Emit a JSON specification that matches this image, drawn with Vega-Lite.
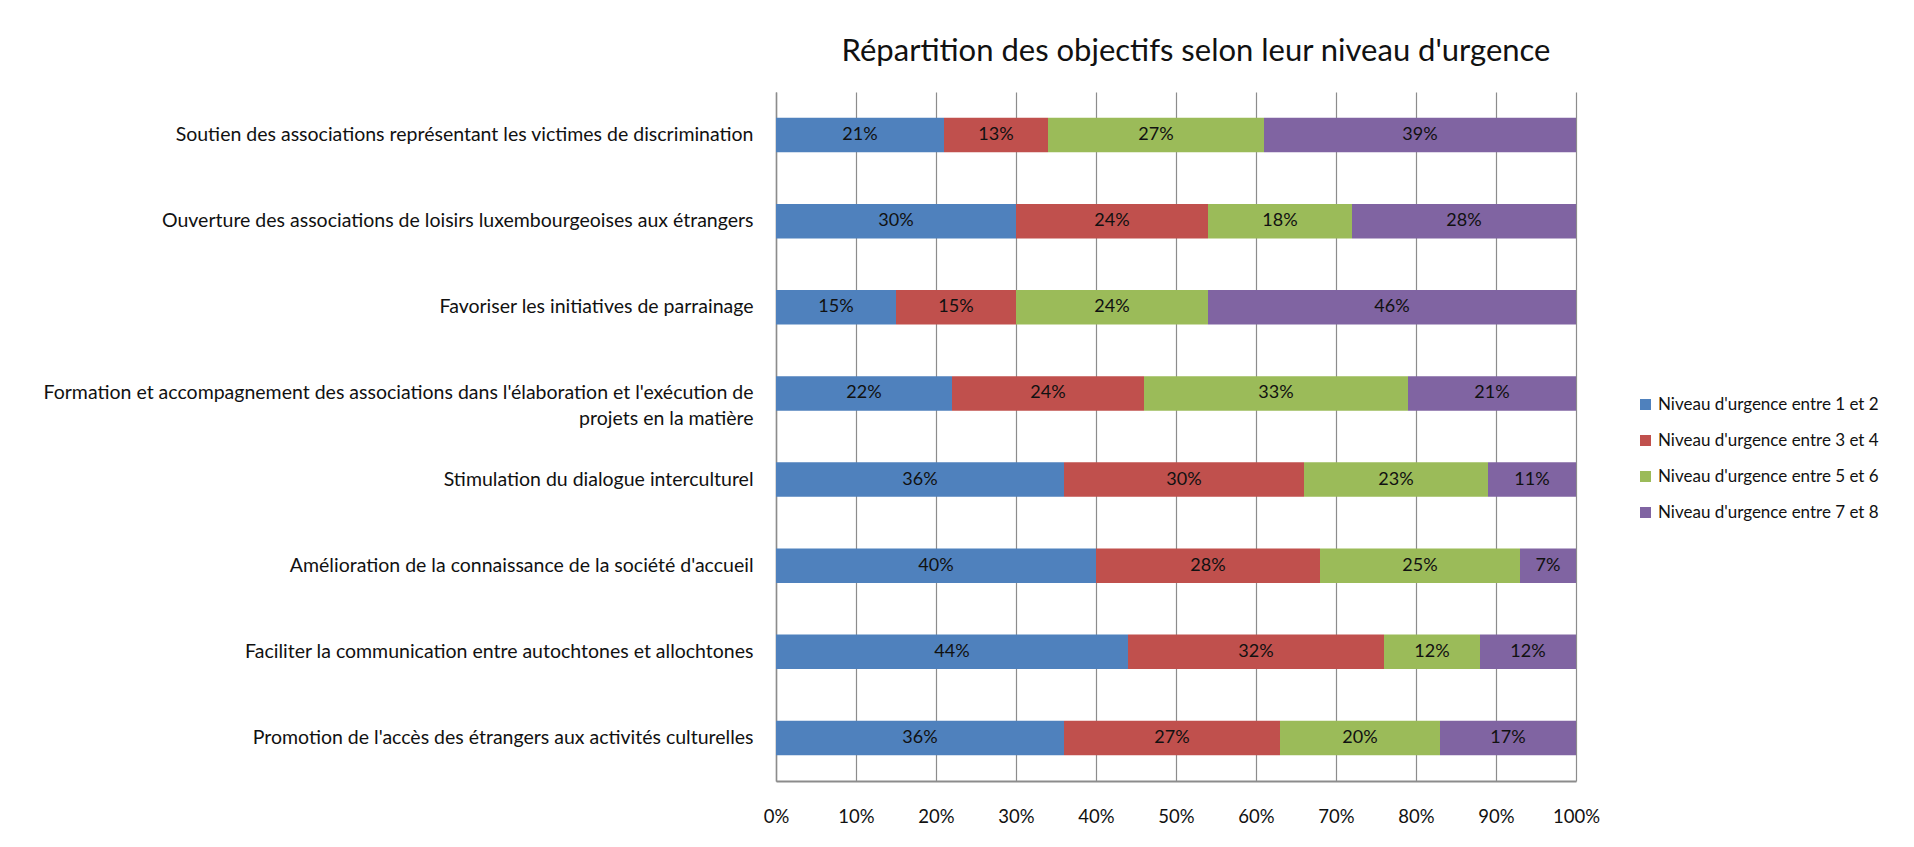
{
  "$schema": "https://vega.github.io/schema/vega-lite/v6.json",
  "autosize": {"type": "none"},
  "width": 800,
  "height": 689,
  "padding": {"left": 776, "top": 92, "right": 338, "bottom": 66},
  "background": "white",
  "title": {"text": "Répartition des objectifs selon leur niveau d'urgence", "fontSize": 31, "font": "Lato", "fontWeight": "normal", "color": "#111111", "anchor": "middle", "dx": 20, "offset": 24},
  "config": {"view": {"stroke": null}, "font": "Lato"},
  "data": {"values": [
    {"objectif": "Soutien des associations représentant les victimes de discrimination", "niveau": "Niveau d'urgence entre 1 et 2", "valeur": 21},
    {"objectif": "Soutien des associations représentant les victimes de discrimination", "niveau": "Niveau d'urgence entre 3 et 4", "valeur": 13},
    {"objectif": "Soutien des associations représentant les victimes de discrimination", "niveau": "Niveau d'urgence entre 5 et 6", "valeur": 27},
    {"objectif": "Soutien des associations représentant les victimes de discrimination", "niveau": "Niveau d'urgence entre 7 et 8", "valeur": 39},
    {"objectif": "Ouverture des associations de loisirs luxembourgeoises aux étrangers", "niveau": "Niveau d'urgence entre 1 et 2", "valeur": 30},
    {"objectif": "Ouverture des associations de loisirs luxembourgeoises aux étrangers", "niveau": "Niveau d'urgence entre 3 et 4", "valeur": 24},
    {"objectif": "Ouverture des associations de loisirs luxembourgeoises aux étrangers", "niveau": "Niveau d'urgence entre 5 et 6", "valeur": 18},
    {"objectif": "Ouverture des associations de loisirs luxembourgeoises aux étrangers", "niveau": "Niveau d'urgence entre 7 et 8", "valeur": 28},
    {"objectif": "Favoriser les initiatives de parrainage", "niveau": "Niveau d'urgence entre 1 et 2", "valeur": 15},
    {"objectif": "Favoriser les initiatives de parrainage", "niveau": "Niveau d'urgence entre 3 et 4", "valeur": 15},
    {"objectif": "Favoriser les initiatives de parrainage", "niveau": "Niveau d'urgence entre 5 et 6", "valeur": 24},
    {"objectif": "Favoriser les initiatives de parrainage", "niveau": "Niveau d'urgence entre 7 et 8", "valeur": 46},
    {"objectif": "Formation et accompagnement des associations dans l'élaboration et l'exécution de projets en la matière", "niveau": "Niveau d'urgence entre 1 et 2", "valeur": 22},
    {"objectif": "Formation et accompagnement des associations dans l'élaboration et l'exécution de projets en la matière", "niveau": "Niveau d'urgence entre 3 et 4", "valeur": 24},
    {"objectif": "Formation et accompagnement des associations dans l'élaboration et l'exécution de projets en la matière", "niveau": "Niveau d'urgence entre 5 et 6", "valeur": 33},
    {"objectif": "Formation et accompagnement des associations dans l'élaboration et l'exécution de projets en la matière", "niveau": "Niveau d'urgence entre 7 et 8", "valeur": 21},
    {"objectif": "Stimulation du dialogue interculturel", "niveau": "Niveau d'urgence entre 1 et 2", "valeur": 36},
    {"objectif": "Stimulation du dialogue interculturel", "niveau": "Niveau d'urgence entre 3 et 4", "valeur": 30},
    {"objectif": "Stimulation du dialogue interculturel", "niveau": "Niveau d'urgence entre 5 et 6", "valeur": 23},
    {"objectif": "Stimulation du dialogue interculturel", "niveau": "Niveau d'urgence entre 7 et 8", "valeur": 11},
    {"objectif": "Amélioration de la connaissance de la société d'accueil", "niveau": "Niveau d'urgence entre 1 et 2", "valeur": 40},
    {"objectif": "Amélioration de la connaissance de la société d'accueil", "niveau": "Niveau d'urgence entre 3 et 4", "valeur": 28},
    {"objectif": "Amélioration de la connaissance de la société d'accueil", "niveau": "Niveau d'urgence entre 5 et 6", "valeur": 25},
    {"objectif": "Amélioration de la connaissance de la société d'accueil", "niveau": "Niveau d'urgence entre 7 et 8", "valeur": 7},
    {"objectif": "Faciliter la communication entre autochtones et allochtones", "niveau": "Niveau d'urgence entre 1 et 2", "valeur": 44},
    {"objectif": "Faciliter la communication entre autochtones et allochtones", "niveau": "Niveau d'urgence entre 3 et 4", "valeur": 32},
    {"objectif": "Faciliter la communication entre autochtones et allochtones", "niveau": "Niveau d'urgence entre 5 et 6", "valeur": 12},
    {"objectif": "Faciliter la communication entre autochtones et allochtones", "niveau": "Niveau d'urgence entre 7 et 8", "valeur": 12},
    {"objectif": "Promotion de l'accès des étrangers aux activités culturelles", "niveau": "Niveau d'urgence entre 1 et 2", "valeur": 36},
    {"objectif": "Promotion de l'accès des étrangers aux activités culturelles", "niveau": "Niveau d'urgence entre 3 et 4", "valeur": 27},
    {"objectif": "Promotion de l'accès des étrangers aux activités culturelles", "niveau": "Niveau d'urgence entre 5 et 6", "valeur": 20},
    {"objectif": "Promotion de l'accès des étrangers aux activités culturelles", "niveau": "Niveau d'urgence entre 7 et 8", "valeur": 17}
  ]},
  "transform": [
    {"stack": "valeur", "groupby": ["objectif"], "sort": [{"field": "niveau", "order": "ascending"}], "offset": "normalize", "as": ["v0", "v1"]},
    {"calculate": "(datum.v0 + datum.v1) / 2", "as": "vmid"}
  ],
  "encoding": {
    "y": {
      "field": "objectif",
      "type": "nominal",
      "sort": [
        "Soutien des associations représentant les victimes de discrimination",
        "Ouverture des associations de loisirs luxembourgeoises aux étrangers",
        "Favoriser les initiatives de parrainage",
        "Formation et accompagnement des associations dans l'élaboration et l'exécution de projets en la matière",
        "Stimulation du dialogue interculturel",
        "Amélioration de la connaissance de la société d'accueil",
        "Faciliter la communication entre autochtones et allochtones",
        "Promotion de l'accès des étrangers aux activités culturelles"
      ],
      "scale": {"paddingInner": 0.6, "paddingOuter": 0.3},
      "axis": {
        "title": null,
        "ticks": false,
        "grid": false,
        "domainColor": "#8c8c8c",
        "domainWidth": 1.5,
        "labelPadding": 23,
        "labelFontSize": 19.5,
        "labelColor": "#111111",
        "labelLimit": 900,
        "labelLineHeight": 26,
        "labelExpr": "indexof(datum.label, 'Formation') == 0 ? [\"Formation et accompagnement des associations dans l'élaboration et l'exécution de\", \"projets en la matière\"] : datum.label"
      }
    }
  },
  "layer": [
    {
      "mark": {"type": "bar"},
      "encoding": {
        "x": {
          "field": "v0",
          "type": "quantitative",
          "scale": {"domain": [0, 1], "nice": false},
          "axis": {
            "title": null,
            "format": ".0%",
            "values": [0, 0.1, 0.2, 0.3, 0.4, 0.5, 0.6, 0.7, 0.8, 0.9, 1],
            "grid": true,
            "gridColor": "#8c8c8c",
            "gridWidth": 1.2,
            "domainColor": "#8c8c8c",
            "domainWidth": 2,
            "ticks": false,
            "labelFlush": false,
            "labelPadding": 26,
            "labelFontSize": 18.5,
            "labelColor": "#111111"
          }
        },
        "x2": {"field": "v1"},
        "color": {
          "field": "niveau",
          "type": "nominal",
          "scale": {
            "domain": ["Niveau d'urgence entre 1 et 2", "Niveau d'urgence entre 3 et 4", "Niveau d'urgence entre 5 et 6", "Niveau d'urgence entre 7 et 8"],
            "range": ["#4F81BD", "#C0504D", "#9BBB59", "#8064A2"]
          },
          "legend": {
            "title": null,
            "orient": "none",
            "legendX": 861,
            "legendY": 304,
            "symbolType": "square",
            "symbolSize": 121,
            "symbolStrokeWidth": 0,
            "labelFontSize": 17,
            "labelColor": "#111111",
            "labelLimit": 400,
            "rowPadding": 18
          }
        }
      }
    },
    {
      "mark": {"type": "text", "fontSize": 18, "color": "#111111", "text": {"expr": "datum.valeur + '%'"}},
      "encoding": {
        "x": {"field": "vmid", "type": "quantitative"}
      }
    }
  ]
}
